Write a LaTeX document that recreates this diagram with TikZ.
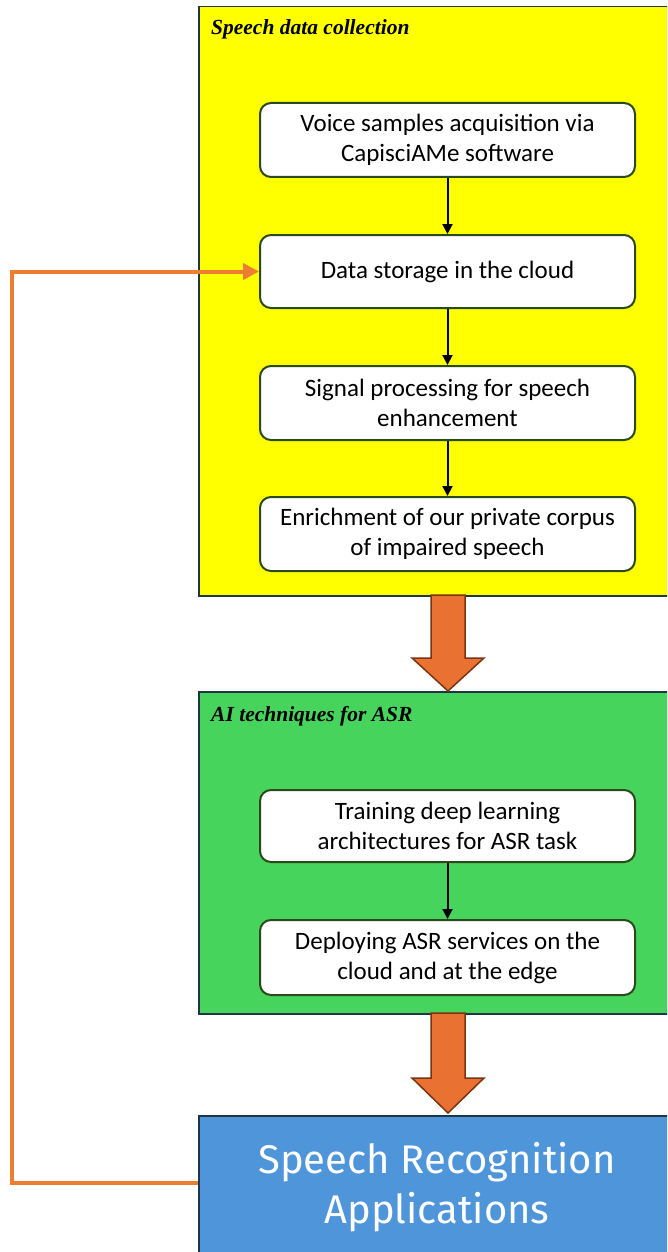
\documentclass[tikz,border=0pt]{standalone}
\usepackage{fontspec}
\setmainfont{Carlito}
\newfontfamily\titlefont{Liberation Serif}
\newfontfamily\appfont{Fira Sans}
\usetikzlibrary{arrows.meta}
\definecolor{yel}{HTML}{FFFF00}
\definecolor{grn}{HTML}{47D45C}
\definecolor{blu}{HTML}{4F95D9}
\definecolor{frame}{HTML}{1E3646}
\definecolor{boxedge}{HTML}{2B4A1C}
\definecolor{org}{HTML}{E97132}
\definecolor{orgline}{HTML}{ED7D31}
\definecolor{orgedge}{HTML}{7A3410}
\tikzset{
  panel/.style={draw=frame, line width=1.5pt},
  stepbox/.style={draw=boxedge, fill=white, line width=2pt, rounded corners=11pt,
    minimum width=375pt, align=center, inner sep=0pt,
    font=\fontsize{25}{30}\selectfont},
  paneltitle/.style={anchor=base west, inner sep=0pt, font=\titlefont\bfseries\itshape\fontsize{21.5}{24}\selectfont},
  flow/.style={draw=black, line width=2pt, -{Triangle[length=10pt,width=10pt]}},
  bigarrow/.style={fill=org, draw=orgedge, line width=1.5pt, line join=miter},
  feedback/.style={draw=orgline, line width=4pt, -{Triangle[length=16pt,width=16pt]}}
}
\begin{document}
\begin{tikzpicture}[x=1pt,y=-1pt]
\useasboundingbox (0,0) rectangle (667,1252);
\clip (0,0) rectangle (667,1252);
% panels
\node[panel, fill=yel, minimum width=474pt, minimum height=589pt, anchor=north west, inner sep=0pt] (yp) at (198,6) {};
\node[panel, fill=grn, minimum width=474pt, minimum height=322pt, anchor=north west, inner sep=0pt] (gp) at (198,691) {};
\node[panel, fill=blu, minimum width=474pt, minimum height=150pt, anchor=north west, inner sep=0pt] (bp) at (198,1115) {};
\node[paneltitle] (yt) at (211,35) {Speech data collection};
\node[paneltitle] (gt) at (211,721) {AI techniques for ASR};
% steps
\node[stepbox, minimum height=74pt] (b1) at (447.5,140) {Voice samples acquisition via\\CapisciAMe software};
\node[stepbox, minimum height=73pt] (b2) at (447.5,271.5) {Data storage in the cloud};
\node[stepbox, minimum height=74pt] (b3) at (447.5,403) {Signal processing for speech\\enhancement};
\node[stepbox, minimum height=74pt] (b4) at (447.5,534) {Enrichment of our private corpus\\of impaired speech};
\node[stepbox, minimum height=72pt] (b5) at (447.5,826) {Training deep learning\\architectures for ASR task};
\node[stepbox, minimum height=75pt] (b6) at (447.5,957.5) {Deploying ASR services on the\\cloud and at the edge};
\draw[flow] (b1) -- (b2);
\draw[flow] (b2) -- (b3);
\draw[flow] (b3) -- (b4);
\draw[flow] (b5) -- (b6);
% application text
\node[inner sep=0pt, text=white, align=center, font=\appfont\fontsize{40}{50}\selectfont, anchor=base] (app) at (437,1223) {Speech Recognition\\Applications};
% big arrows
\draw[bigarrow] (431,595) -- (465,595) -- (465,658) -- (484,658) -- (448,691) -- (412,658) -- (431,658) -- cycle;
\draw[bigarrow] (431,1013) -- (465,1013) -- (465,1078) -- (484,1078) -- (448,1113) -- (412,1078) -- (431,1078) -- cycle;
% feedback
\coordinate (fbs) at (198,1183);
\coordinate (fbc1) at (12,1183);
\coordinate (fbc2) at (12,271.5);
\draw[feedback] (fbs) -- (fbc1) -- (fbc2) -- (b2.west);
\end{tikzpicture}
\end{document}
